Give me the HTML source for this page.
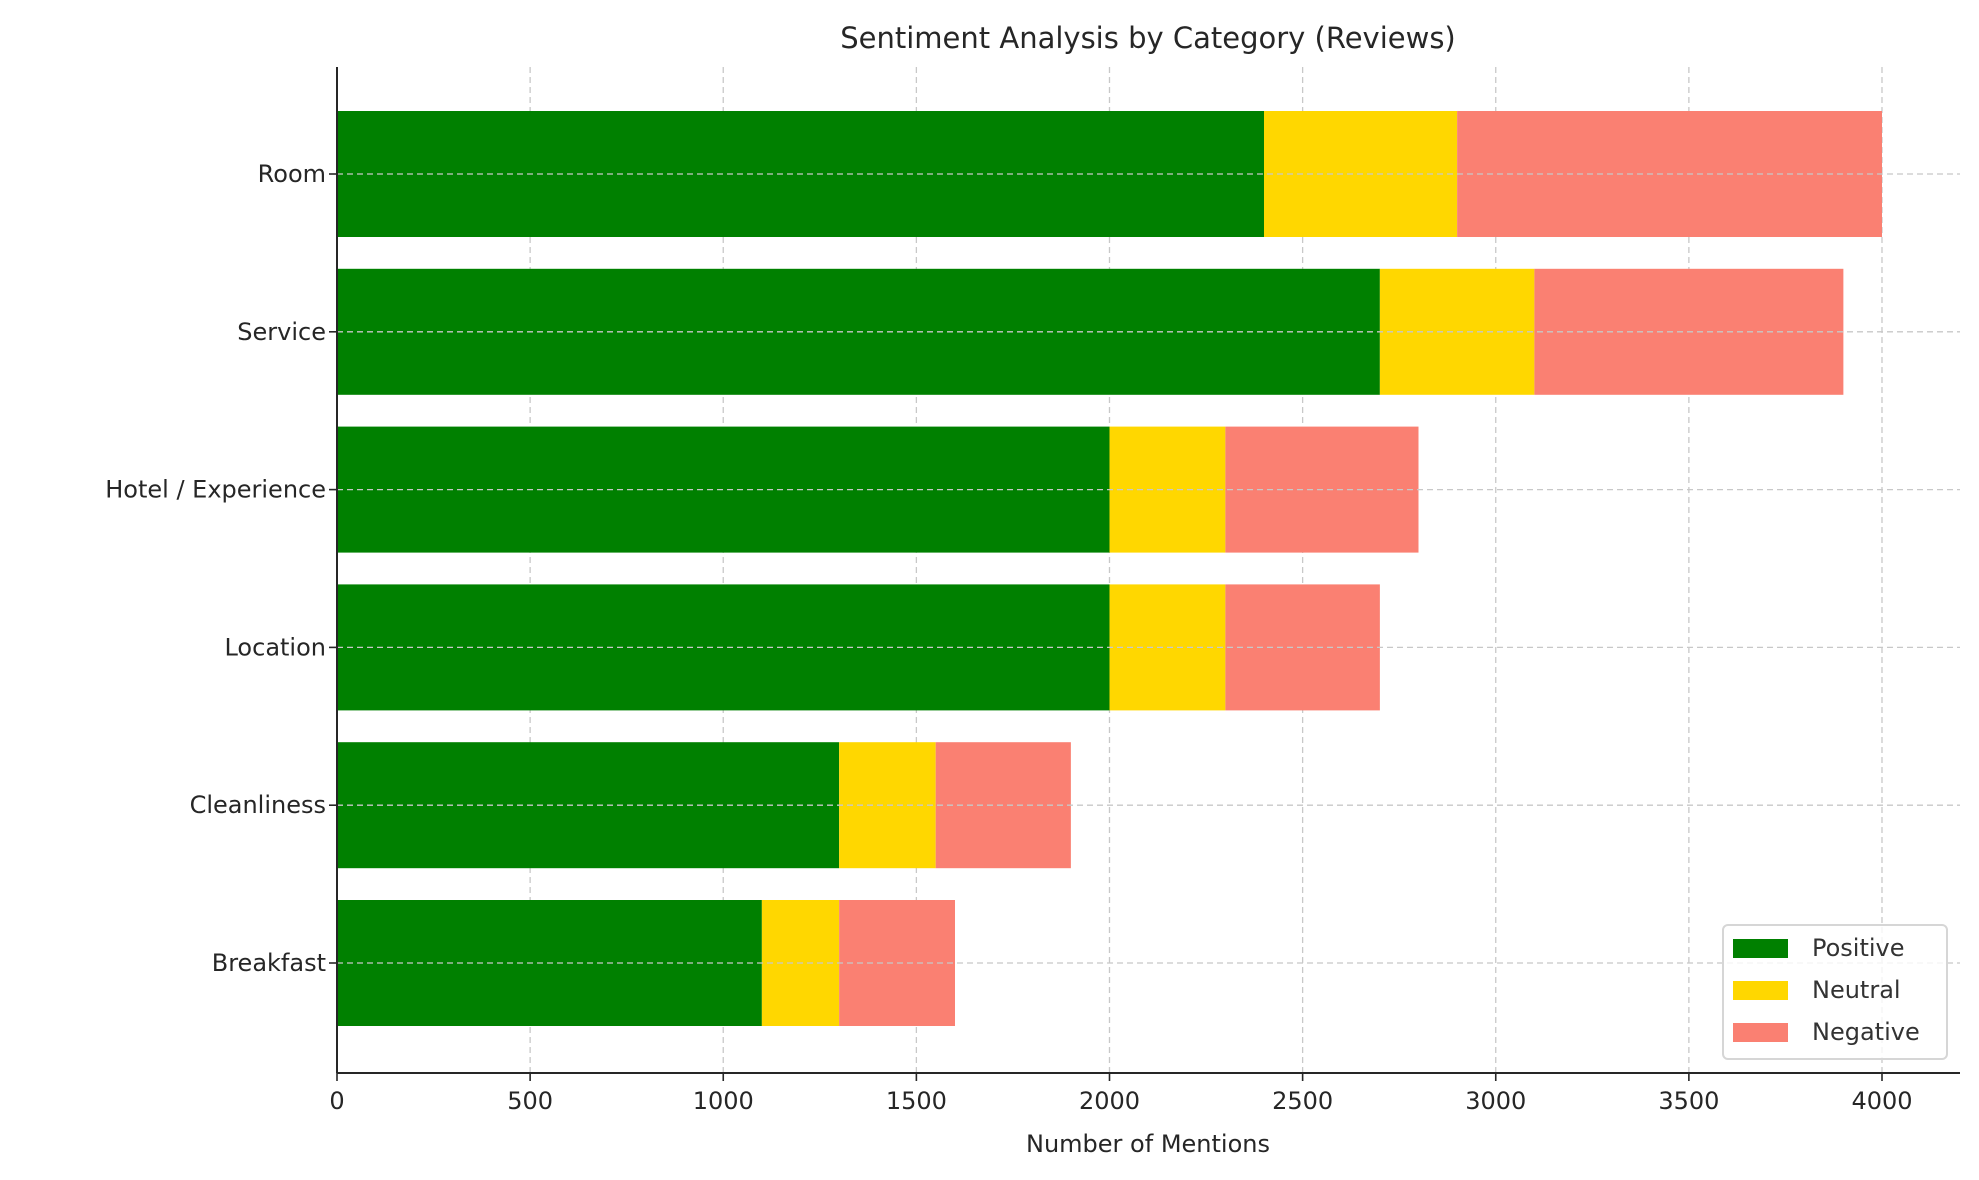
<!DOCTYPE html>
<html><head><meta charset="utf-8"><style>
body{margin:0;background:#fff;}
svg{display:block;font-family:"DejaVu Sans","Liberation Sans",sans-serif;}
</style></head><body>
<svg id="chart" width="1979" height="1180" xmlns="http://www.w3.org/2000/svg">
<rect width="1979" height="1180" fill="#fff"/>
<g id="grid"></g><g id="bars"></g><g id="axes"></g>
<text x="1148" y="48" text-anchor="middle" font-size="29" fill="#262626">Sentiment Analysis by Category (Reviews)</text>
<text x="1148" y="1152" text-anchor="middle" font-size="24" fill="#262626">Number of Mentions</text>
<g>
<rect x="1723" y="925" width="224" height="134" rx="5" fill="#fff" fill-opacity="0.8" stroke="#d6d6d6" stroke-width="2"/>
<rect x="1733" y="939" width="55" height="19" fill="#008000"/>
<text x="1812" y="956" font-size="24" fill="#333">Positive</text>
<rect x="1733" y="981" width="55" height="19" fill="#FFD700"/>
<text x="1812" y="998" font-size="24" fill="#333">Neutral</text>
<rect x="1733" y="1023" width="55" height="19" fill="#FA8072"/>
<text x="1812" y="1040" font-size="24" fill="#333">Negative</text>
</g>
</svg>
<script>
const categories = ["Room","Service","Hotel / Experience","Location","Cleanliness","Breakfast"];
const positive = [2400,2700,2000,2000,1300,1100];
const neutral = [500,400,300,300,250,200];
const negative = [1100,800,500,400,350,300];
const xTicks = [0,500,1000,1500,2000,2500,3000,3500,4000];
const NS="http://www.w3.org/2000/svg";
const X0=337, X1=1882, XMAX=4000, LEFT=337, RIGHT=1960, TOP=67, BOTTOM=1073;
const Y0=174, STEP=157.8, BH=126;
function xs(v){return X0+(X1-X0)*v/XMAX;}
function ys(i){return Y0+STEP*i;}
function mk(tag,attrs,parent){const e=document.createElementNS(NS,tag);for(const k in attrs)e.setAttribute(k,attrs[k]);parent.appendChild(e);return e;}
const grid=document.getElementById('grid'),bars=document.getElementById('bars'),axes=document.getElementById('axes');
xTicks.forEach(t=>{
  const l=mk('line',{x1:xs(t),x2:xs(t),y1:TOP,y2:BOTTOM,stroke:'#c8c8c8','stroke-width':1.3,'stroke-dasharray':'6,4'},grid);
  
  
  const tk=mk('line',{x1:xs(t),x2:xs(t),y1:BOTTOM,y2:BOTTOM+8,stroke:'#262626','stroke-width':1.6},axes);
  
  
  const tx=mk('text',{x:xs(t),y:BOTTOM+36,'text-anchor':'middle','font-size':24,fill:'#262626'},axes);
  tx.textContent=t;
  
  
});
categories.forEach((c,i)=>{
  const y=ys(i);
  const segs=[[0,positive[i],'#008000','positive'],[positive[i],positive[i]+neutral[i],'#FFD700','neutral'],[positive[i]+neutral[i],positive[i]+neutral[i]+negative[i],'#FA8072','negative']];
  segs.forEach(s=>{
    const r=mk('rect',{x:xs(s[0]),y:y-BH/2,width:xs(s[1])-xs(s[0]),height:BH,fill:s[2]},bars);
    
    
  });
  const g=mk('line',{x1:LEFT,x2:RIGHT,y1:y,y2:y,stroke:'#c8c8c8','stroke-width':1.3,'stroke-dasharray':'6,4'},bars);
  
  
  const tk=mk('line',{x1:LEFT-8,x2:LEFT,y1:y,y2:y,stroke:'#262626','stroke-width':1.6},axes);
  
  
  const tx=mk('text',{x:LEFT-11,y:y+8,'text-anchor':'end','font-size':24,fill:'#262626'},axes);
  tx.textContent=c;
  
  
});
const ya=mk('line',{x1:LEFT,x2:LEFT,y1:TOP,y2:BOTTOM,stroke:'#262626','stroke-width':2},axes);


const xa=mk('line',{x1:LEFT,x2:RIGHT,y1:BOTTOM,y2:BOTTOM,stroke:'#262626','stroke-width':2},axes);


</script>
</body></html>
